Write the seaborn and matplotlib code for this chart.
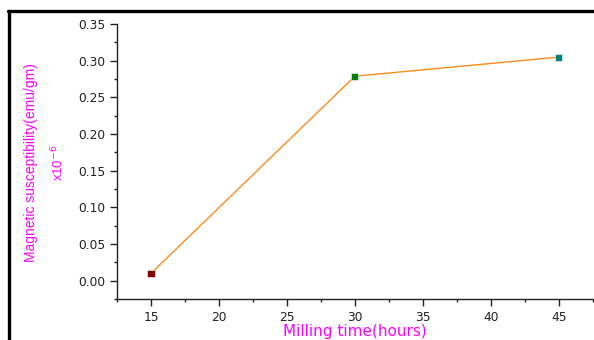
import matplotlib
matplotlib.use("Agg")
import matplotlib.pyplot as plt
from matplotlib.lines import Line2D
from matplotlib.ticker import MultipleLocator, FormatStrFormatter
import seaborn as sns
import pandas as pd

# Milling time (hours) and magnetic susceptibility (x10^-6 emu/gm)
milling_time = [15, 30, 45]
susceptibility = [0.010, 0.279, 0.305]
point_colors = ["#800000", "#008000", "#008080"]

df = pd.DataFrame({"time": milling_time, "chi": susceptibility,
                   "label": [str(t) for t in milling_time]})

sns.set_theme(style="ticks")
plt.rcParams["font.family"] = ["DejaVu Sans"]

fig = plt.figure(figsize=(5.94, 3.40), dpi=100)
ax = fig.add_axes([0.197, 0.1206, 0.801, 0.8084])

sns.lineplot(data=df, x="time", y="chi", ax=ax, color="#ff8a1c", linewidth=1.0)
sns.scatterplot(data=df, x="time", y="chi", hue="label", palette=point_colors,
                marker="s", s=26, edgecolor="white", linewidth=0.4,
                legend=False, ax=ax, zorder=3)

ax.set_xlim(12.5, 47.5)
ax.set_ylim(-0.025, 0.35)
ax.xaxis.set_major_locator(MultipleLocator(5))
ax.xaxis.set_minor_locator(MultipleLocator(2.5))
ax.yaxis.set_major_locator(MultipleLocator(0.05))
ax.yaxis.set_minor_locator(MultipleLocator(0.025))
ax.yaxis.set_major_formatter(FormatStrFormatter("%.2f"))

for side in ("top", "right"):
    ax.spines[side].set_visible(False)
for side in ("left", "bottom"):
    ax.spines[side].set_linewidth(1.0)
    ax.spines[side].set_color("#222222")

ax.tick_params(axis="both", which="major", direction="out", length=5, width=1.0,
               labelsize=8.8, colors="#222222", pad=3.5)
ax.tick_params(axis="both", which="minor", direction="out", length=2.5, width=1.0,
               colors="#222222")

ax.set_xlabel("Milling time(hours)", color="#ff00ff", fontsize=11, labelpad=0.5)
ax.set_ylabel("")
fig.text(0.052, 0.522, "Magnetic susceptibility(emu/gm)", rotation=90,
         color="#ff00ff", fontsize=10, family="Liberation Sans",
         ha="center", va="center")
fig.text(0.097, 0.52, r"x10$^{-6}$", rotation=90,
         color="#ff00ff", fontsize=9.5, family="Liberation Sans",
         ha="center", va="center")

# frame lines along top and left edges
fig.add_artist(Line2D([0.0135, 1.0], [0.9676, 0.9676], color="black",
                      linewidth=2.4, transform=fig.transFigure))
fig.add_artist(Line2D([0.0155, 0.0155], [0.0, 0.9676], color="black",
                      linewidth=2.4, transform=fig.transFigure))

fig.savefig("out.png", dpi=100)
